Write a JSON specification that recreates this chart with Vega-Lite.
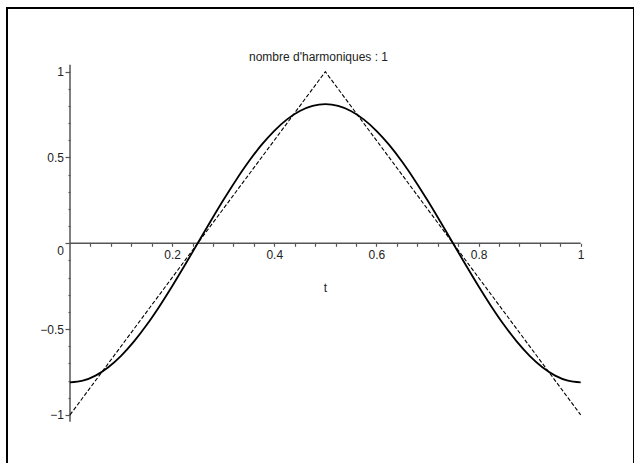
{
  "$schema": "https://vega.github.io/schema/vega-lite/v6.json",
  "autosize": {"type": "none"},
  "padding": {"left": 7, "top": 8, "right": 0, "bottom": 0},
  "width": 627,
  "height": 470,
  "background": "white",
  "title": {
    "text": "nombre d'harmoniques : 1",
    "anchor": "middle",
    "frame": "group",
    "orient": "top",
    "offset": 0,
    "baseline": "alphabetic",
    "dy": 65,
    "dx": -2,
    "font": "Liberation Sans",
    "fontSize": 12,
    "fontWeight": "normal",
    "color": "#222222"
  },
  "datasets": {
    "axes": [
      {"t": 0, "t_fin": 1, "y": 0, "y_fin": 0},
      {"t": 0, "t_fin": 0, "y": -1.04, "y_fin": 1.04}
    ],
    "harmonique": [
      {"t": 0, "y": -0.8106}, {"t": 0.025, "y": -0.8006}, {"t": 0.05, "y": -0.7709},
      {"t": 0.075, "y": -0.7222}, {"t": 0.1, "y": -0.6558}, {"t": 0.125, "y": -0.5732},
      {"t": 0.15, "y": -0.4764}, {"t": 0.175, "y": -0.368}, {"t": 0.2, "y": -0.2505},
      {"t": 0.225, "y": -0.1268}, {"t": 0.25, "y": 0}, {"t": 0.275, "y": 0.1268},
      {"t": 0.3, "y": 0.2505}, {"t": 0.325, "y": 0.368}, {"t": 0.35, "y": 0.4764},
      {"t": 0.375, "y": 0.5732}, {"t": 0.4, "y": 0.6558}, {"t": 0.425, "y": 0.7222},
      {"t": 0.45, "y": 0.7709}, {"t": 0.475, "y": 0.8006}, {"t": 0.5, "y": 0.8106},
      {"t": 0.525, "y": 0.8006}, {"t": 0.55, "y": 0.7709}, {"t": 0.575, "y": 0.7222},
      {"t": 0.6, "y": 0.6558}, {"t": 0.625, "y": 0.5732}, {"t": 0.65, "y": 0.4764},
      {"t": 0.675, "y": 0.368}, {"t": 0.7, "y": 0.2505}, {"t": 0.725, "y": 0.1268},
      {"t": 0.75, "y": 0}, {"t": 0.775, "y": -0.1268}, {"t": 0.8, "y": -0.2505},
      {"t": 0.825, "y": -0.368}, {"t": 0.85, "y": -0.4764}, {"t": 0.875, "y": -0.5732},
      {"t": 0.9, "y": -0.6558}, {"t": 0.925, "y": -0.7222}, {"t": 0.95, "y": -0.7709},
      {"t": 0.975, "y": -0.8006}, {"t": 1, "y": -0.8106}
    ],
    "triangle": [
      {"t": 0, "y": -1}, {"t": 0.5, "y": 1}, {"t": 1, "y": -1}
    ]
  },
  "encoding": {
    "x": {
      "field": "t",
      "type": "quantitative",
      "scale": {"domain": [-0.12336, 1.10437], "nice": false, "zero": false},
      "axis": {
        "orient": "bottom",
        "offset": -234.7,
        "domain": false,
        "grid": false,
        "values": [0.04, 0.08, 0.12, 0.16, 0.2, 0.24, 0.28, 0.32, 0.36, 0.4, 0.44, 0.48, 0.52, 0.56, 0.6, 0.64, 0.68, 0.72, 0.76, 0.8, 0.84, 0.88, 0.92, 0.96, 1],
        "format": "~g",
        "labelExpr": "abs(datum.value * 5 - round(datum.value * 5)) < 0.000001 ? datum.label : ''",
        "tickSize": 3,
        "tickWidth": 1.2,
        "tickColor": "#555555",
        "labelPadding": 3,
        "labelFont": "Liberation Sans",
        "labelFontSize": 12,
        "labelColor": "#222222",
        "labelFlush": false,
        "labelOverlap": false,
        "title": "t",
        "titleX": 318,
        "titleY": 47.7,
        "titleBaseline": "alphabetic",
        "titleFont": "Liberation Sans",
        "titleFontSize": 12,
        "titleFontWeight": "normal",
        "titleColor": "#222222"
      }
    },
    "y": {
      "field": "y",
      "type": "quantitative",
      "scale": {"domain": [-1.36772, 1.37121], "nice": false, "zero": false},
      "axis": {
        "orient": "left",
        "offset": -63,
        "domain": false,
        "grid": false,
        "values": [-1, -0.9, -0.8, -0.7, -0.6, -0.5, -0.4, -0.3, -0.2, -0.1, 0, 0.1, 0.2, 0.3, 0.4, 0.5, 0.6, 0.7, 0.8, 0.9, 1],
        "format": "~g",
        "labelExpr": "abs(datum.value * 2 - round(datum.value * 2)) < 0.000001 ? datum.label : ''",
        "tickSize": {"condition": {"test": "abs(datum.value * 2 - round(datum.value * 2)) < 0.000001", "value": 5}, "value": 2},
        "tickWidth": 1.2,
        "tickColor": "#555555",
        "labelPadding": 1.5,
        "labelOffset": {"condition": {"test": "datum.value == 0", "value": 7}, "value": 0},
        "labelFont": "Liberation Sans",
        "labelFontSize": 12,
        "labelColor": "#222222",
        "labelFlush": false,
        "labelOverlap": false,
        "title": null
      }
    }
  },
  "layer": [
    {
      "data": {"name": "axes"},
      "mark": {"type": "rule", "color": "#555555", "strokeWidth": 1.5},
      "encoding": {
        "x2": {"field": "t_fin"},
        "y2": {"field": "y_fin"}
      }
    },
    {
      "data": {"name": "triangle"},
      "mark": {"type": "line", "color": "black", "strokeWidth": 1.1, "strokeDash": [4, 2]}
    },
    {
      "data": {"name": "harmonique"},
      "mark": {"type": "line", "color": "black", "strokeWidth": 1.8, "interpolate": "monotone"}
    }
  ],
  "config": {
    "view": {"stroke": "black", "strokeWidth": 2},
    "font": "Liberation Sans"
  }
}
